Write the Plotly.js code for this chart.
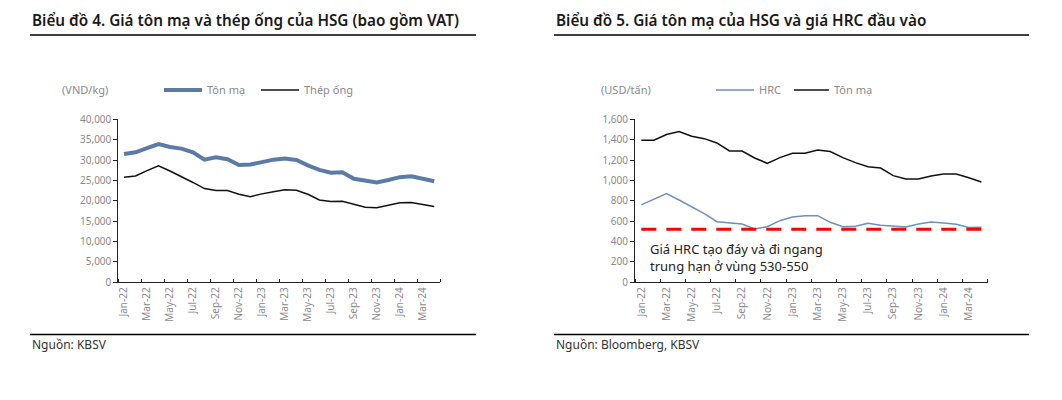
<!DOCTYPE html>
<html>
<head>
<meta charset="utf-8">
<script src="https://cdn.plot.ly/plotly-3.0.1.min.js"></script>
<style>
html,body{margin:0;padding:0;background:#fff;}
#chart{width:1062px;height:400px;}
</style>
</head>
<body>
<div id="chart"></div>
<script>
// Months Jan-22 .. Apr-24 (28 monthly points)
const months = ["Jan-22","Feb-22","Mar-22","Apr-22","May-22","Jun-22","Jul-22","Aug-22","Sep-22","Oct-22","Nov-22","Dec-22",
                "Jan-23","Feb-23","Mar-23","Apr-23","May-23","Jun-23","Jul-23","Aug-23","Sep-23","Oct-23","Nov-23","Dec-23",
                "Jan-24","Feb-24","Mar-24","Apr-24"];
const tickLabels = ["Jan-22","Mar-22","May-22","Jul-22","Sep-22","Nov-22","Jan-23","Mar-23","May-23","Jul-23","Sep-23","Nov-23","Jan-24","Mar-24"];

// Chart 4 (VND/kg)
const tonMaVND = [31500,31900,32900,33900,33200,32800,31900,30100,30700,30200,28800,28900,
                  29500,30100,30400,30000,28700,27600,26900,27000,25400,24900,24500,25100,
                  25800,26000,25300,24800];
const thepOngVND = [25800,26100,27400,28600,27300,26000,24500,23000,22500,22500,21600,21000,
                    21700,22200,22700,22600,21600,20200,19800,19900,19100,18400,18300,18900,
                    19500,19600,19100,18600];

// Chart 5 (USD/tấn)
const hrcUSD = [760,815,872,808,743,674,595,586,573,524,546,605,
                641,654,654,589,546,550,579,560,553,543,573,592,
                582,569,537,540];
const tonMaUSD = [1395,1395,1450,1479,1433,1410,1368,1289,1289,1220,1168,1224,
                  1266,1266,1299,1283,1224,1175,1135,1122,1047,1014,1014,1044,
                  1063,1063,1027,985];
const hrcFloorLevel = 520;
const hrcFloorX = ["Jan-22","Apr-24"];

const idx = months.map((m,i)=>i);
const tickVals = tickLabels.map(l=>months.indexOf(l));
const floorX = hrcFloorX.map(l=>months.indexOf(l));

const W = 1062, H = 400;
const px = v => v / W;
const py = v => 1 - v / H;

const FONT = "Noto Sans, Open Sans, sans-serif";
const GRAY = "#8a8a8a";

const xCommon = {
  type: "linear",
  range: [-0.5, 27.5],
  tickmode: "array",
  tickvals: tickVals,
  ticktext: tickLabels,
  tickangle: -90,
  ticks: "",
  tickfont: {family: FONT, size: 10, color: GRAY},
  showline: true, linecolor: "#222", linewidth: 1,
  showgrid: false, zeroline: false,
  minor: {ticks: "inside", tick0: -0.5, dtick: 2, ticklen: 3, tickcolor: "#222", tickwidth: 1, showgrid: false},
  fixedrange: true
};
const yCommon = {
  showline: true, linecolor: "#222", linewidth: 1,
  ticks: "outside", ticklen: 4, tickcolor: "#222", tickwidth: 1,
  showgrid: false, zeroline: false,
  tickfont: {family: FONT, size: 10, color: GRAY},
  fixedrange: true
};

const traces = [
  {x: idx, y: tonMaVND, name: "Tôn mạ", type: "scatter", mode: "lines",
   line: {color: "#5b7ba6", width: 4}, xaxis: "x", yaxis: "y", legend: "legend"},
  {x: idx, y: thepOngVND, name: "Thép ống", type: "scatter", mode: "lines",
   line: {color: "#111", width: 1.5}, xaxis: "x", yaxis: "y", legend: "legend"},
  {x: idx, y: hrcUSD, name: "HRC", type: "scatter", mode: "lines",
   line: {color: "#6f8fbb", width: 1.5}, xaxis: "x2", yaxis: "y2", legend: "legend2"},
  {x: idx, y: tonMaUSD, name: "Tôn mạ", type: "scatter", mode: "lines",
   line: {color: "#111", width: 1.5}, xaxis: "x2", yaxis: "y2", legend: "legend3"},
  {x: floorX, y: floorX.map(()=>hrcFloorLevel), name: "HRC floor", type: "scatter", mode: "lines",
   line: {color: "#ff0000", width: 3, dash: "15px,10px"}, xaxis: "x2", yaxis: "y2", showlegend: false}
];

const legendBase = {orientation: "h", yanchor: "middle", xanchor: "left", y: py(90),
  font: {family: FONT, size: 11, color: GRAY}, bgcolor: "rgba(0,0,0,0)", borderwidth: 0, tracegroupgap: 0};

const layout = {
  width: W, height: H,
  margin: {l: 0, r: 0, t: 0, b: 0},
  paper_bgcolor: "#fff", plot_bgcolor: "rgba(0,0,0,0)",
  showlegend: true,
  xaxis: Object.assign({}, xCommon, {domain: [px(118.3), px(440)], anchor: "y"}),
  yaxis: Object.assign({}, yCommon, {domain: [py(282.3), py(119.3)], anchor: "x",
    range: [0, 40000], tickvals: [0,5000,10000,15000,20000,25000,30000,35000,40000],
    tickformat: ",d"}),
  xaxis2: Object.assign({}, xCommon, {domain: [px(635), px(987.7)], anchor: "y2"}),
  yaxis2: Object.assign({}, yCommon, {domain: [py(282.3), py(119.3)], anchor: "x2",
    range: [0, 1600], tickvals: [0,200,400,600,800,1000,1200,1400,1600],
    tickformat: ",d"}),
  legend: Object.assign({}, legendBase, {x: px(159), entrywidth: 44, entrywidthmode: "pixels", itemwidth: 38}),
  legend2: Object.assign({}, legendBase, {x: px(711), itemwidth: 38}),
  legend3: Object.assign({}, legendBase, {x: px(789), itemwidth: 35}),
  shapes: [
    {type: "line", xref: "paper", yref: "paper", x0: px(30), x1: px(476), y0: py(35), y1: py(35), line: {color: "#000", width: 1.5}},
    {type: "line", xref: "paper", yref: "paper", x0: px(554), x1: px(1029), y0: py(35), y1: py(35), line: {color: "#000", width: 1.5}},
    {type: "line", xref: "paper", yref: "paper", x0: px(30), x1: px(476), y0: py(334.5), y1: py(334.5), line: {color: "#000", width: 1.5}},
    {type: "line", xref: "paper", yref: "paper", x0: px(554), x1: px(1029), y0: py(334.5), y1: py(334.5), line: {color: "#000", width: 1.5}}
  ],
  annotations: [
    {text: "Biểu đồ 4. Giá tôn mạ và thép ống của HSG (bao gồm VAT)", xref: "paper", yref: "paper",
     x: px(30), y: py(20), xanchor: "left", yanchor: "middle", showarrow: false,
     font: {family: FONT, size: 15.3, color: "#1a1a1a", weight: 600}},
    {text: "Biểu đồ 5. Giá tôn mạ của HSG và giá HRC đầu vào", xref: "paper", yref: "paper",
     x: px(554), y: py(20), xanchor: "left", yanchor: "middle", showarrow: false,
     font: {family: FONT, size: 15.3, color: "#1a1a1a", weight: 600}},
    {text: "Nguồn: KBSV", xref: "paper", yref: "paper", x: px(30), y: py(344), xanchor: "left", yanchor: "middle",
     showarrow: false, font: {family: FONT, size: 12, color: "#333"}},
    {text: "Nguồn: Bloomberg, KBSV", xref: "paper", yref: "paper", x: px(554), y: py(344), xanchor: "left", yanchor: "middle",
     showarrow: false, font: {family: FONT, size: 12, color: "#333"}},
    {text: "(VND/kg)", xref: "paper", yref: "paper", x: px(60), y: py(90), xanchor: "left", yanchor: "middle",
     showarrow: false, font: {family: FONT, size: 11, color: GRAY}},
    {text: "(USD/tấn)", xref: "paper", yref: "paper", x: px(599), y: py(90), xanchor: "left", yanchor: "middle",
     showarrow: false, font: {family: FONT, size: 11, color: GRAY}},
    {text: "Giá HRC tạo đáy và đi ngang<br>trung hạn ở vùng 530-550", xref: "paper", yref: "paper",
     x: px(648), y: py(257), xanchor: "left", yanchor: "middle", align: "left", showarrow: false,
     font: {family: FONT, size: 13, color: "#222"}}
  ]
};

Plotly.newPlot("chart", traces, layout, {staticPlot: true, displayModeBar: false});
</script>
</body>
</html>
